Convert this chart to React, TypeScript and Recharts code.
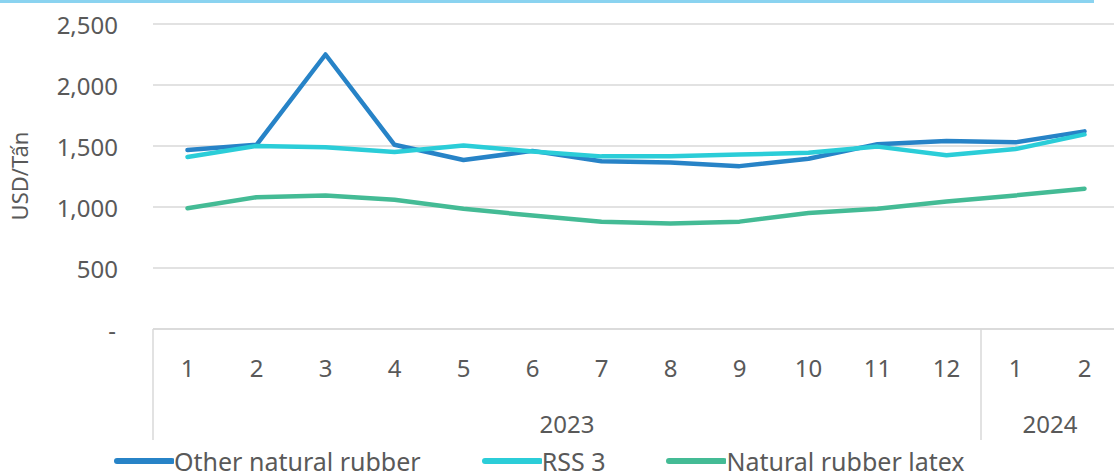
import React from "react";
import { CartesianGrid, Line, LineChart, XAxis, YAxis } from "recharts";

const months = ["1", "2", "3", "4", "5", "6", "7", "8", "9", "10", "11", "12", "1", "2"];
const years = ["2023", "2024"];
const yearStartIndex = [0, 12];
const otherNaturalRubber = [1467, 1510, 2250, 1510, 1385, 1460, 1375, 1365, 1335, 1395, 1515, 1540, 1530, 1620];
const rss3 = [1410, 1500, 1490, 1450, 1505, 1455, 1415, 1415, 1430, 1445, 1495, 1425, 1475, 1595];
const latex = [990, 1080, 1095, 1060, 985, 930, 880, 865, 880, 950, 985, 1045, 1095, 1150];
const yTicks = [0, 500, 1000, 1500, 2000, 2500];

const series = [
  { key: "other", name: "Other natural rubber", color: "#2783c7" },
  { key: "rss", name: "RSS 3", color: "#2bcdd8" },
  { key: "latex", name: "Natural rubber latex", color: "#44bb95" },
];

const data = months.map((m, i) => ({
  month: m,
  other: otherNaturalRubber[i],
  rss: rss3[i],
  latex: latex[i],
}));

const FONT = "'Noto Sans', sans-serif";
const TEXT = "#595959";
const GRID = "#d9d9d9";

const CHART_W = 1130;
const CHART_H = 476;
const PLOT_LEFT = 153;
const PLOT_RIGHT_MARGIN = 11;
const BAND = (CHART_W - PLOT_LEFT - PLOT_RIGHT_MARGIN) / months.length;

function YTick(props: any) {
  const { y, payload } = props;
  const label = payload.value === 0 ? "-" : payload.value.toLocaleString("en-US");
  return (
    <text
      x={payload.value === 0 ? 116 : 118}
      y={y}
      textAnchor="end"
      dominantBaseline="central"
      fontFamily={FONT}
      fontSize={24}
      fill={TEXT}
    >
      {label}
    </text>
  );
}

function XTick(props: any) {
  const { x, payload, index } = props;
  // axis line sits at the bottom of the plot area
  const y = 329;
  const bandStart = x - BAND / 2;
  const yearIdx = yearStartIndex.indexOf(index);
  let yearEl = null;
  if (yearIdx >= 0) {
    const end = yearIdx + 1 < yearStartIndex.length ? yearStartIndex[yearIdx + 1] : months.length;
    const count = end - index;
    yearEl = (
      <g>
        <line x1={bandStart} x2={bandStart} y1={y} y2={y + 111} stroke={GRID} strokeWidth={1.5} />
        <text
          x={bandStart + (count * BAND) / 2}
          y={y + 94}
          textAnchor="middle"
          dominantBaseline="central"
          fontFamily={FONT}
          fontSize={24}
          fill={TEXT}
        >
          {years[yearIdx]}
        </text>
      </g>
    );
  }
  return (
    <g>
      {yearEl}
      <text
        x={x}
        y={y + 38}
        textAnchor="middle"
        dominantBaseline="central"
        fontFamily={FONT}
        fontSize={24}
        fill={TEXT}
      >
        {payload.value}
      </text>
    </g>
  );
}

function ChartLegend() {
  return (
    <div
      style={{
        position: "absolute",
        left: 111,
        top: 447,
        display: "flex",
        alignItems: "center",
        gap: 58,
        fontFamily: FONT,
        fontSize: 25,
        color: TEXT,
      }}
    >
      {series.map((s) => (
        <div key={s.key} style={{ display: "flex", alignItems: "center" }}>
          <svg width={63} height={10}>
            <line x1={6} x2={61} y1={5} y2={5} stroke={s.color} strokeWidth={6} strokeLinecap="round" />
          </svg>
          <span style={{ lineHeight: "28px", whiteSpace: "nowrap" }}>{s.name}</span>
        </div>
      ))}
    </div>
  );
}

export default function App() {
  return (
    <div
      style={{
        position: "absolute",
        left: 0,
        top: 0,
        width: 1114,
        height: 476,
        overflow: "hidden",
        background: "#fff",
      }}
    >
      <div
        style={{
          position: "absolute",
          left: 0,
          top: 0,
          width: 1094,
          height: 3,
          background: "#8ad3f0",
        }}
      />
      <LineChart
        width={CHART_W}
        height={CHART_H}
        data={data}
        margin={{ top: 24, right: PLOT_RIGHT_MARGIN, bottom: 36, left: 0 }}
      >
        <CartesianGrid vertical={false} stroke={GRID} strokeWidth={1.5} />
        <XAxis
          dataKey="month"
          interval={0}
          height={111}
          tickLine={false}
          tickSize={0}
          tickMargin={0}
          axisLine={{ stroke: GRID, strokeWidth: 1.5 }}
          padding={{ left: BAND / 2, right: BAND / 2 }}
          tick={<XTick />}
        />
        <YAxis
          width={PLOT_LEFT}
          domain={[0, 2500]}
          ticks={yTicks}
          axisLine={false}
          tickLine={false}
          tick={<YTick />}
        />
        {series.map((s) => (
          <Line
            key={s.key}
            type="linear"
            dataKey={s.key}
            name={s.name}
            stroke={s.color}
            strokeWidth={4.5}
            strokeLinecap="round"
            strokeLinejoin="round"
            dot={false}
            activeDot={false}
            isAnimationActive={false}
          />
        ))}
        <text
          x={19}
          y={176}
          transform="rotate(-90 19 176)"
          textAnchor="middle"
          dominantBaseline="central"
          fontFamily={FONT}
          fontSize={22}
          fill={TEXT}
        >
          USD/Tấn
        </text>
      </LineChart>
      <ChartLegend />
    </div>
  );
}
